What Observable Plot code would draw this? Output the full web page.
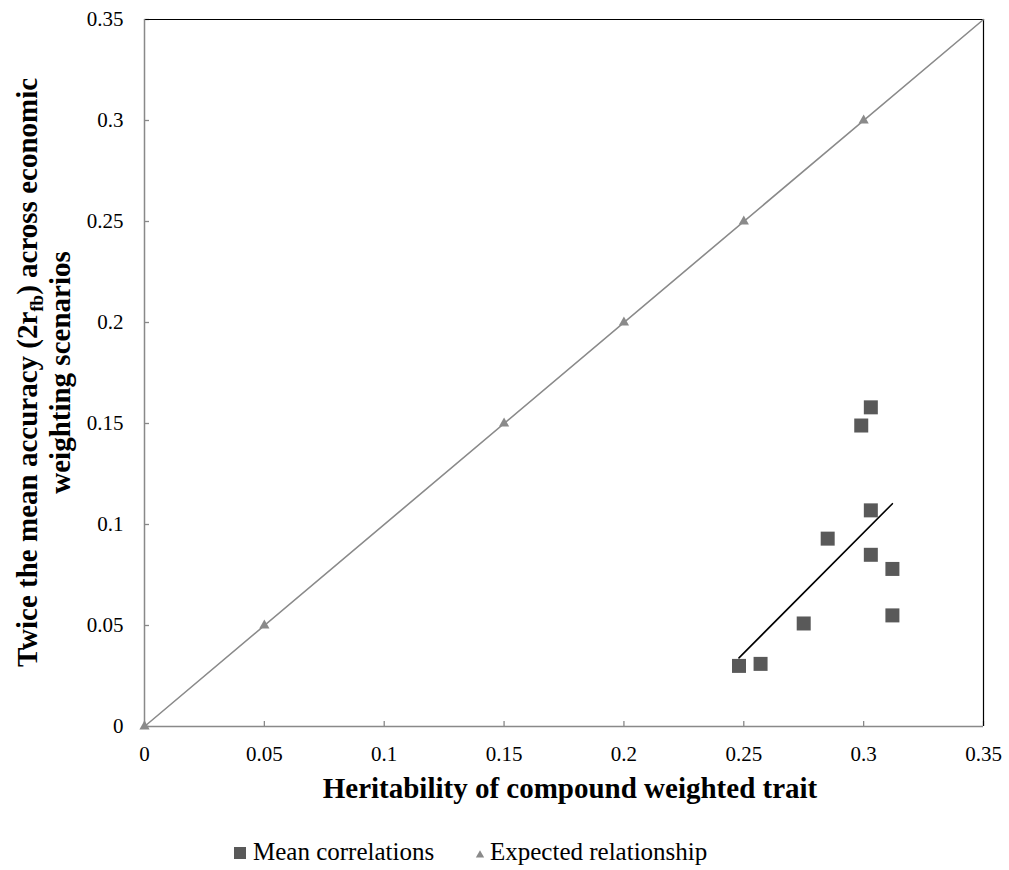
<!DOCTYPE html>
<html><head><meta charset="utf-8">
<script src="https://cdn.jsdelivr.net/npm/d3@7"></script>
<script src="https://cdn.jsdelivr.net/npm/@observablehq/plot@0.6"></script>
<style>body{margin:0;background:#fff;font-family:"Liberation Serif",serif}</style>
</head><body><div id="chart"></div>
<script>
const meanH2 = [0.303, 0.299, 0.303, 0.285, 0.303, 0.312, 0.312, 0.275, 0.257, 0.248];
const meanAcc = [0.158, 0.149, 0.107, 0.093, 0.085, 0.078, 0.055, 0.051, 0.031, 0.030];
const expectedX = [0, 0.05, 0.15, 0.2, 0.25, 0.3];
const expectedY = [0, 0.05, 0.15, 0.2, 0.25, 0.3];
const expectedLineX = [0, 0.35];
const expectedLineY = [0, 0.35];
const ticks = [0, 0.05, 0.1, 0.15, 0.2, 0.25, 0.3, 0.35];
const xTitle = "Heritability of compound weighted trait";
const yTitle1a = "Twice the mean accuracy (2r";
const yTitle1sub = "fb";
const yTitle1b = ") across economic";
const yTitle2 = "weighting scenarios";
const legendLabels = ["Mean correlations", "Expected relationship"];

const mean = meanH2.map((x, i) => ({x, y: meanAcc[i]}));
const expected = expectedX.map((x, i) => ({x, y: expectedY[i]}));
const expLine = expectedLineX.map((x, i) => ({x, y: expectedLineY[i]}));

const W = 1009, H = 870, mT = 19, mB = 144, mL = 144, mR = 26;
const plotH = H - mT - mB, plotW = W - mL - mR;
const fmt = d => d === 0 ? "0" : String(d);
const FONT = "Liberation Serif, Times New Roman, serif";

const svg = Plot.plot({
  width: W, height: H,
  marginTop: mT, marginBottom: mB, marginLeft: mL, marginRight: mR,
  style: {fontFamily: FONT, fontSize: "21px", color: "#000", background: "#fff"},
  x: {domain: [0, 0.35], ticks, tickFormat: fmt},
  y: {domain: [0, 0.35], ticks, tickFormat: fmt},
  marks: [
    Plot.axisX({ticks, tickFormat: fmt, tickSize: 0, tickPadding: 20, label: null, fontSize: 21, fill: "#000"}),
    Plot.axisY({ticks, tickFormat: fmt, tickSize: 0, tickPadding: 21, label: null, fontSize: 21, fill: "#000"}),
    Plot.tickX(ticks, {x: d => d, stroke: "#898989", strokeWidth: 1.3, insetTop: plotH - 5}),
    Plot.tickY(ticks, {y: d => d, stroke: "#898989", strokeWidth: 1.3, insetRight: plotW - 5}),
    Plot.ruleY([0.35], {stroke: "#000", strokeWidth: 1.2}),
    Plot.ruleX([0.35], {stroke: "#000", strokeWidth: 1.2}),
    Plot.ruleY([0], {stroke: "#898989", strokeWidth: 1.5}),
    Plot.ruleX([0], {stroke: "#898989", strokeWidth: 1.5}),
    Plot.line(expLine, {x: "x", y: "y", stroke: "#8a8a8a", strokeWidth: 1.6}),
    Plot.dot(expected, {x: "x", y: "y", symbol: "triangle", r: 3.8, fill: "#8a8a8a", stroke: "none"}),
    Plot.linearRegressionY(mean, {x: "x", y: "y", ci: 0, stroke: "#000", strokeWidth: 1.6}),
    Plot.dot(mean, {x: "x", y: "y", symbol: "square", r: 7.9, fill: "#595959", stroke: "none"})
  ]
});
document.getElementById("chart").appendChild(svg);

const s = d3.select(svg);
s.append("text").attr("x", 570).attr("y", 798).attr("text-anchor", "middle")
  .attr("font-family", FONT).attr("font-weight", "bold").attr("font-size", 29)
  .attr("fill", "#000").text(xTitle);

const cy = (mT + H - mB) / 2;
const t1 = s.append("text").attr("transform", `translate(37,${cy}) rotate(-90)`).attr("text-anchor", "middle")
  .attr("font-family", FONT).attr("font-weight", "bold").attr("font-size", 29).attr("fill", "#000");
t1.append("tspan").text(yTitle1a);
t1.append("tspan").attr("font-size", 19).attr("dy", 6).text(yTitle1sub);
t1.append("tspan").attr("dy", -6).text(yTitle1b);
s.append("text").attr("transform", `translate(70,${cy}) rotate(-90)`).attr("text-anchor", "middle")
  .attr("font-family", FONT).attr("font-weight", "bold").attr("font-size", 29)
  .attr("fill", "#000").text(yTitle2);

// legend
const lg = s.append("g").attr("font-family", FONT).attr("font-size", 25).attr("fill", "#000").attr("text-anchor", "start");
lg.append("path").attr("d", d3.symbol(d3.symbolSquare, 144)()).attr("transform", "translate(240,853)").attr("fill", "#595959");
lg.append("text").attr("x", 253).attr("y", 860).attr("text-anchor", "start").text(legendLabels[0]);
lg.append("path").attr("d", d3.symbol(d3.symbolTriangle, 30)()).attr("transform", "translate(480,855)").attr("fill", "#8a8a8a");
lg.append("text").attr("x", 490).attr("y", 860).attr("text-anchor", "start").text(legendLabels[1]);
</script></body></html>
